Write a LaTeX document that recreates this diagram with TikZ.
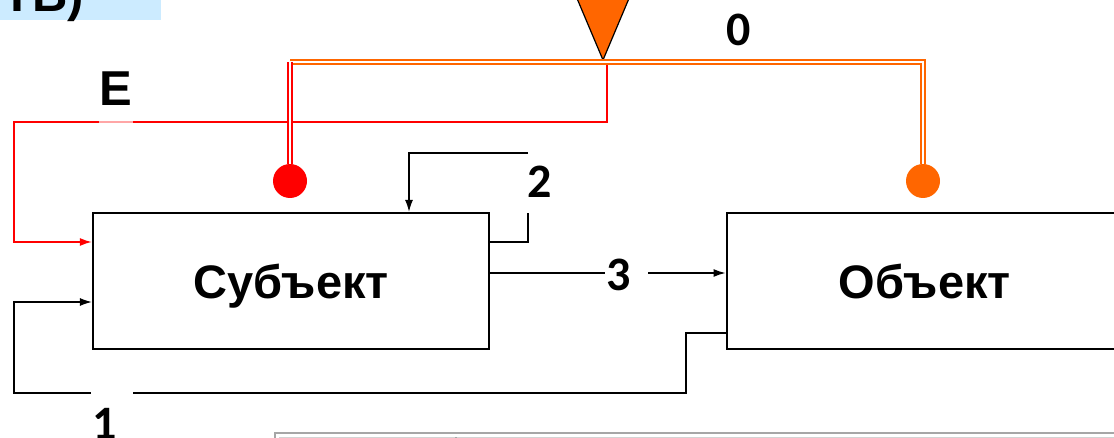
\documentclass[tikz,border=0pt]{standalone}
\usepackage{fontspec}
\setmainfont{Liberation Sans}
\newfontfamily\numfont{Carlito}
\usetikzlibrary{positioning}
\usetikzlibrary{arrows.meta}
\definecolor{orng}{HTML}{FF6600}
\definecolor{bannerblue}{HTML}{CCEBFF}
\definecolor{tblgray}{HTML}{A6A6A6}

\begin{document}
\begin{tikzpicture}[x=1pt, y=-1pt, >={Latex[length=12pt,width=8pt]},
    block/.style={draw, line width=2.2pt, minimum width=396pt, minimum height=136pt, text depth=0pt, font=\fontsize{47}{50}\selectfont\bfseries},
    num/.style={inner sep=0pt, font=\numfont\fontsize{48}{50}\selectfont\bfseries},
    lbl/.style={inner sep=0pt, font=\fontsize{49}{50}\selectfont\bfseries},
    dot/.style={circle, inner sep=0pt, minimum size=34pt},
    wire/.style={line width=1.4pt},
    rwire/.style={red, line width=1.6pt},
    dbl/.style={draw=#1, line width=2.2pt, double=white, double distance=2pt},
    gap/.style={fill=white, inner sep=0pt, minimum height=5pt}]

    \useasboundingbox (0,0) rectangle (1114,438);
    \clip (0,0) rectangle (1114,438);

    % title banner, cut off
    \fill[bannerblue] (0,0) rectangle (161,20);
    \node(Ban)[anchor=base east, lbl] at (84,12) {ЭТВ)};

    \node(S)[block] at (291,281) {Субъект};
    \node(O)[block, right=235.5pt of S] {Объект};

    % source
    \coordinate(J) at (603,62);
    \coordinate(eE) at (14,122);
    \draw[rwire, ->] ([xshift=4pt]J) |- (eE) |- ([yshift=39pt]S.west);
    \draw[fill=orng, line width=1.2pt] (565,-30) -- (641,-30) -- (603,60) -- cycle;

    \node(R)[dot, fill=red] at (290,181) {};
    \node(Y)[dot, fill=orng] at (923,181) {};
    \draw[dbl=orng] (R |- J) -| (Y.north);
    \draw[dbl=red] (R |- J) -- (R.north);

    \node(Eg)[gap, fill opacity=0.65, minimum width=34pt] at (116,122) {};
    \node(E)[lbl] at (116,89) {E};
    \node(L0)[num] at (739,30) {0};

    % 1
    \coordinate(c1) at (686,393);
    \coordinate(c2) at (14,302);
    \draw[wire, ->] ([yshift=-52pt]O.west) -| (c1) -| (c2) -- ([yshift=-21pt]S.west);
    \node(g1)[gap, minimum width=42pt] at (112,393) {};
    \node(L1)[num] at (105,424) {1};

    % 2
    \coordinate(b1) at (528,213);
    \coordinate(b2) at (528,153);
    \draw[wire] ([yshift=39pt]S.east) -| (b1);
    \draw[wire, ->] (b2) -| ([xshift=118pt]S.north);
    \node(L2)[num] at (540,182) {2};

    % 3
    \draw[wire, ->] ([yshift=8pt]S.east) -- ([yshift=8pt]O.west);
    \node(g3)[gap, minimum width=43pt] at (626,273) {};
    \node(L3)[num] at (619,275) {3};

    % table below, cut off
    \draw[tblgray, line width=2.5pt] (275,445) -- (275,433) -- (1120,433);
    \draw[tblgray!50, line width=1pt] (279,445) -- (279,437) -- (1120,437);
    \draw[tblgray, line width=1.5pt] (456,437) -- (456,445);

\end{tikzpicture}
\end{document}
